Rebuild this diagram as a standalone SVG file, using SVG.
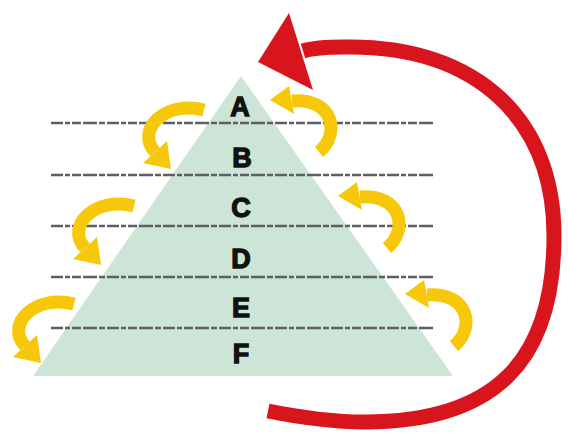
<svg xmlns="http://www.w3.org/2000/svg" xmlns:xlink="http://www.w3.org/1999/xlink" width="568" height="435" viewBox="0 0 568 435">
  <style>
    .tri { fill: #cde5d6; }
    .dash { stroke: #5e5e66; stroke-width: 2.5; stroke-dasharray: 12 2 5 2 9 2 14 2 6 2; fill: none; }
    .lbl { font-family: "Liberation Sans", Arial, sans-serif; font-weight: bold; font-size: 27px; fill: #111; stroke: #111; stroke-width: 1.3; text-anchor: middle; }
    .yshaft { fill: none; stroke: #f7c70a; stroke-width: 13; }
    .yhead { fill: #f7c70a; }
    .red { fill: none; stroke: #d8151d; stroke-width: 15; }
    .redhead { fill: #d8151d; }
  </style>
  <defs>
    <g id="leftArrow">
      <path class="yshaft" d="M 0 0 C -39 -10, -69 20, -49 42"/>
      <polygon class="yhead" points="-37,31 -61,53 -33,59"/>
    </g>
    <g id="rightArrow">
      <path class="yshaft" d="M 0 0 C 21 -17, 16 -54, -27 -51"/>
      <polygon class="yhead" points="-30,-66 -25,-38 -49,-52"/>
    </g>
  </defs>

  <g id="pyramid">
    <polygon class="tri" points="241,76 453,376 33,376"/>
  </g>

  <g id="dividers">
    <line class="dash" x1="51" y1="123" x2="435" y2="123"/>
    <line class="dash" x1="51" y1="175" x2="435" y2="175"/>
    <line class="dash" x1="51" y1="226" x2="435" y2="226"/>
    <line class="dash" x1="51" y1="277" x2="435" y2="277"/>
    <line class="dash" x1="51" y1="328" x2="435" y2="328"/>
  </g>

  <g id="layer-A"><text class="lbl" x="240" y="116">A</text></g>
  <g id="layer-B"><text class="lbl" x="242" y="167">B</text></g>
  <g id="layer-C"><text class="lbl" x="241" y="217">C</text></g>
  <g id="layer-D"><text class="lbl" x="241" y="268">D</text></g>
  <g id="layer-E"><text class="lbl" x="241" y="317">E</text></g>
  <g id="layer-F"><text class="lbl" x="241" y="363">F</text></g>

  <g id="connectors">
    <use xlink:href="#leftArrow" href="#leftArrow" transform="translate(204,110)"/>
    <use xlink:href="#leftArrow" href="#leftArrow" transform="translate(134,206)"/>
    <use xlink:href="#leftArrow" href="#leftArrow" transform="translate(74,304)"/>
    <use xlink:href="#rightArrow" href="#rightArrow" transform="translate(319,152)"/>
    <use xlink:href="#rightArrow" href="#rightArrow" transform="translate(387,248)"/>
    <use xlink:href="#rightArrow" href="#rightArrow" transform="translate(454,346)"/>
    <path class="red" d="M 268 411 C 298 417, 335 422, 365 422 C 493.5 422, 554 362.5, 554 236 C 554 118.8, 476.5 47, 350 47 C 335 47, 317.3 46.5, 303 51"/>
    <polygon class="redhead" points="289,13 313,90 258,62"/>
  </g>
</svg>
